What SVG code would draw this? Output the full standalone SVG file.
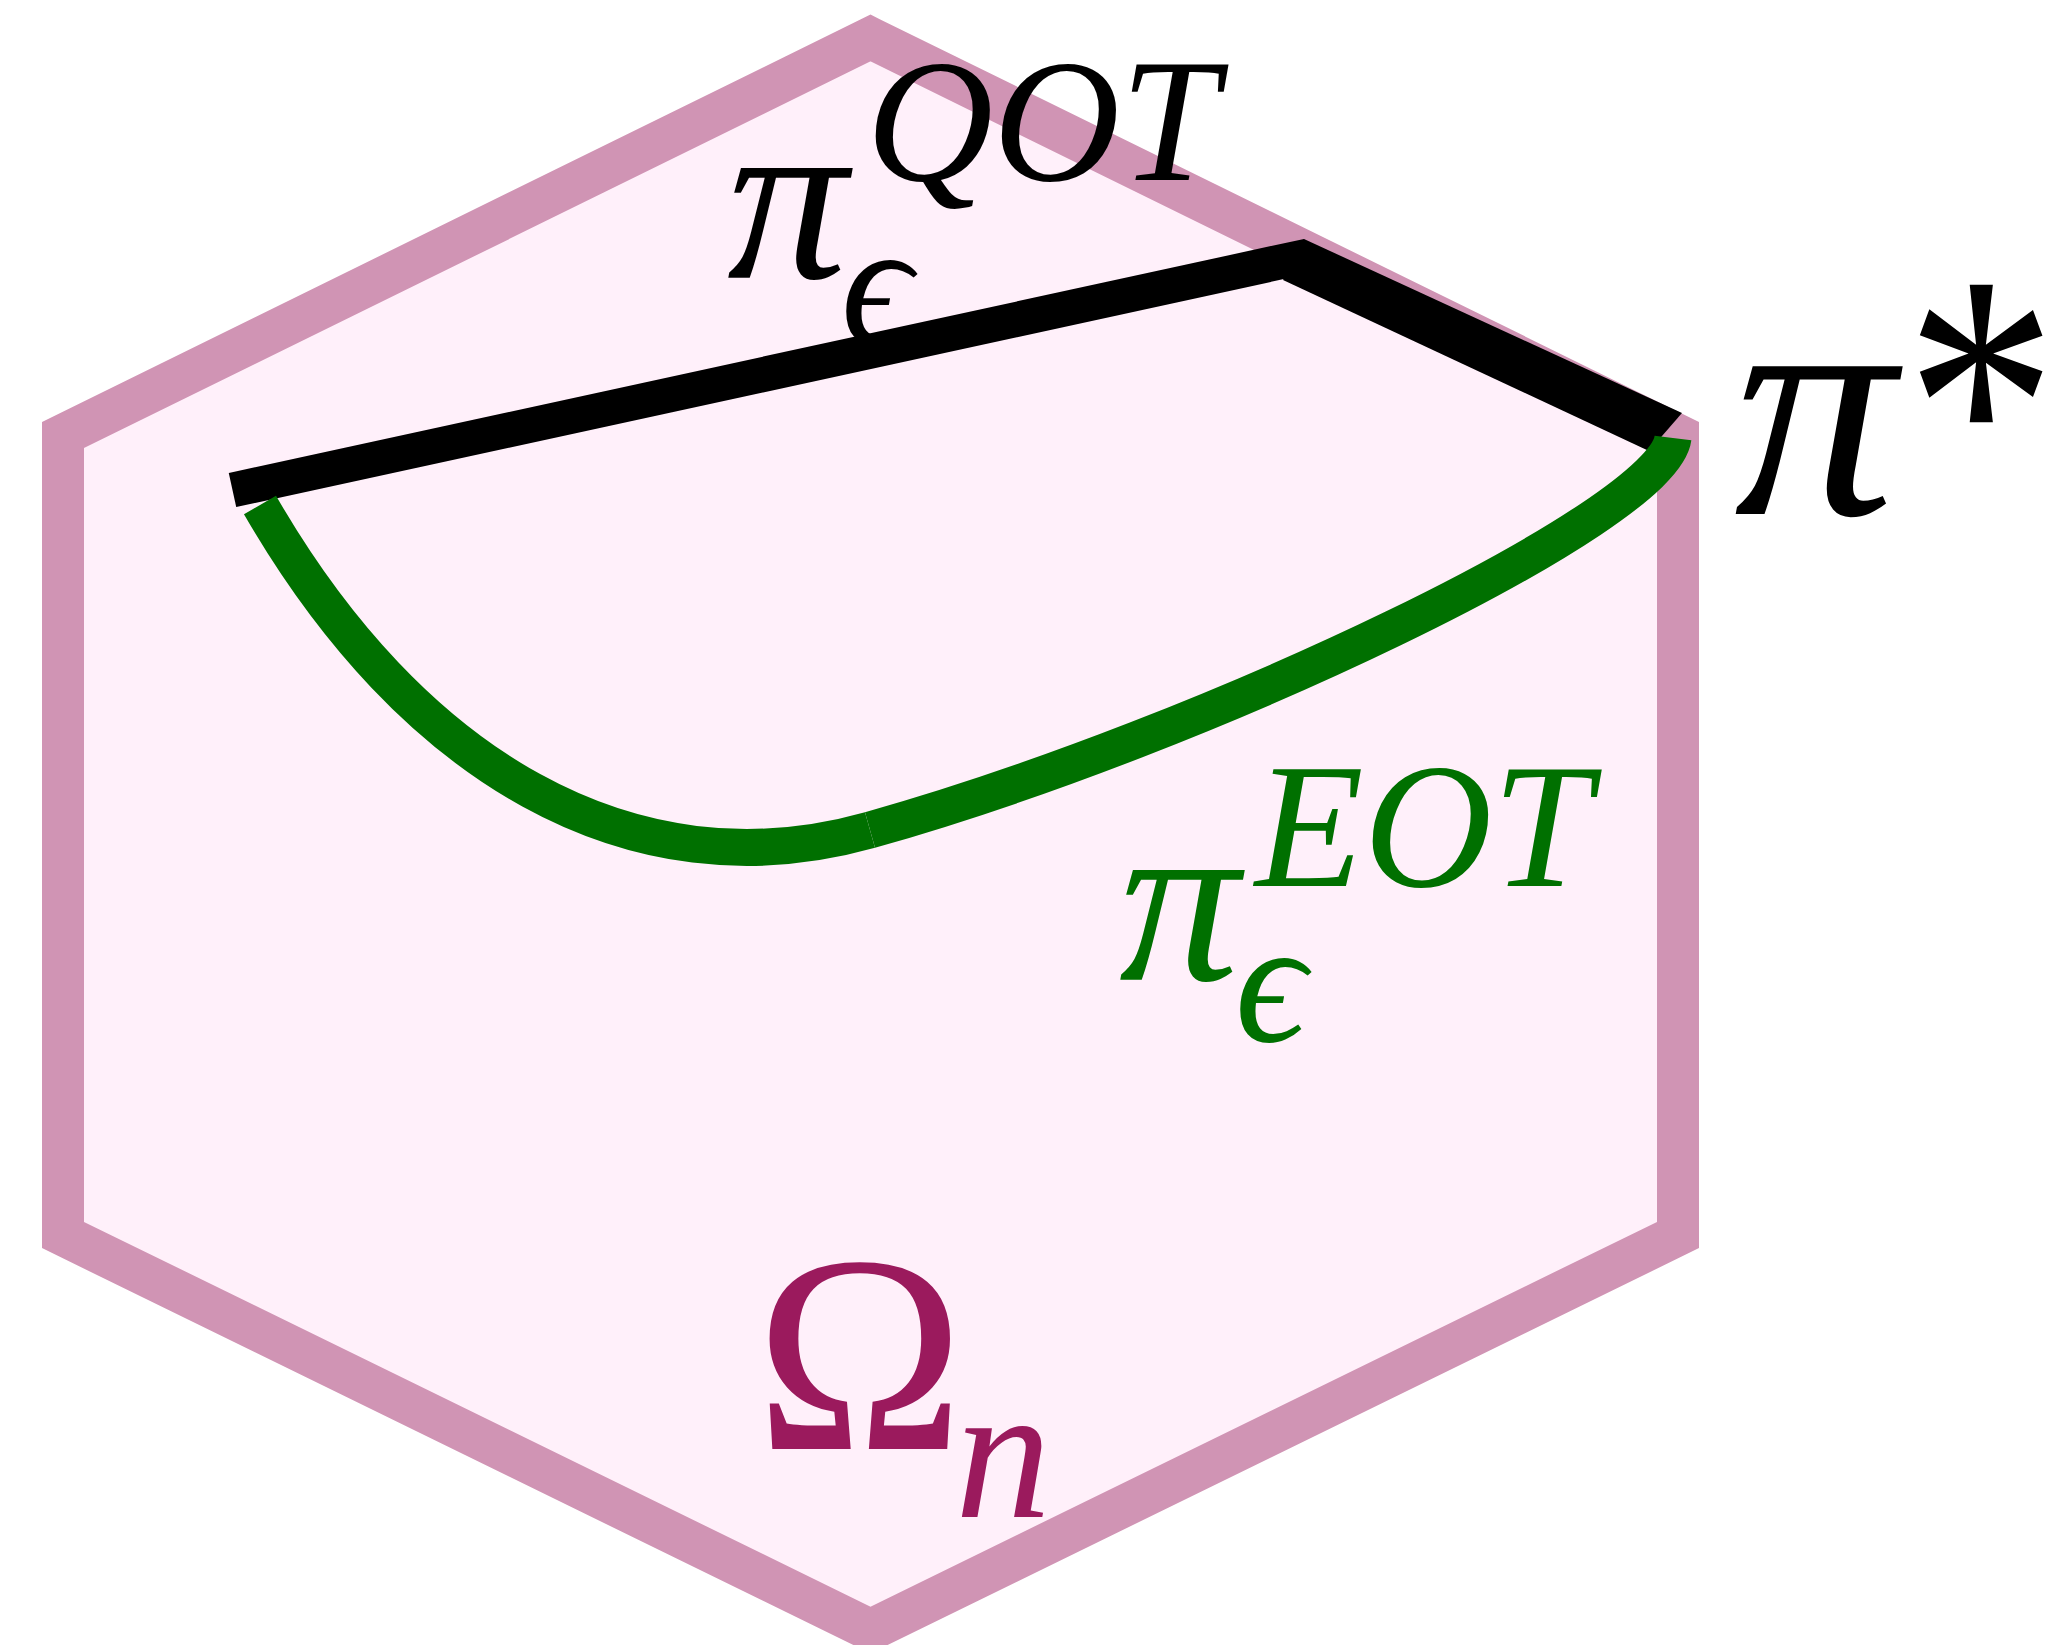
<svg xmlns="http://www.w3.org/2000/svg" width="2065" height="1645" viewBox="0 0 2065 1645">
<style>
.hex{fill:#FFF0FA;stroke:#D094B4;stroke-width:42;stroke-linejoin:miter}
.blk{fill:none;stroke:#000;stroke-linecap:butt}
.grn{fill:none;stroke:#007000;stroke-width:37;stroke-linecap:butt}
.it{font-style:italic}
</style>
<rect width="2065" height="1645" fill="#fff"/>
<g id="domain">
<polygon class="hex" points="870.5,38 1678,435 1678,1235 870.5,1630 63,1235 63,435"/>
</g>
<g id="connectors">
<path id="qot-path-1" class="blk" stroke-width="35" d="M232.5,490 L1307.7,256"/>
<path id="qot-path-2" fill="#000" d="M1304,239 L1682,413 L1649,451 L1283,280 Z"/>
<path id="eot-path-1" class="grn" d="M260,505 C410,765 630,897.5 870,830"/>
<path id="eot-path-2" class="grn" d="M870,830 C1206,735.5 1663,517 1673,438"/>
</g>
<g id="label-qot" font-family="Liberation Serif, serif">
<text class="it" x="727" y="278" font-size="240">π</text>
<text class="it" x="866" y="180" font-size="176">QOT</text>
<text class="it" x="841" y="343" font-size="176">ϵ</text>
</g>
<g id="label-eot" fill="#007000" font-family="Liberation Serif, serif">
<text class="it" x="1119" y="980" font-size="240">π</text>
<text class="it" x="1255" y="886" font-size="178">EOT</text>
<text class="it" x="1235" y="1041" font-size="176">ϵ</text>
</g>
<g id="label-pistar" font-family="Liberation Serif, serif">
<text class="it" x="1734" y="514" font-size="322">π</text>
<text transform="translate(1905,530) scale(0.95,1.17)" x="0" y="0" font-size="320">*</text>
</g>
<g id="label-omega" fill="#9B1A5D" font-family="Liberation Serif, serif">
<text x="755" y="1449" font-size="282">Ω</text>
<text class="it" x="955" y="1517" font-size="192">n</text>
</g>
</svg>
